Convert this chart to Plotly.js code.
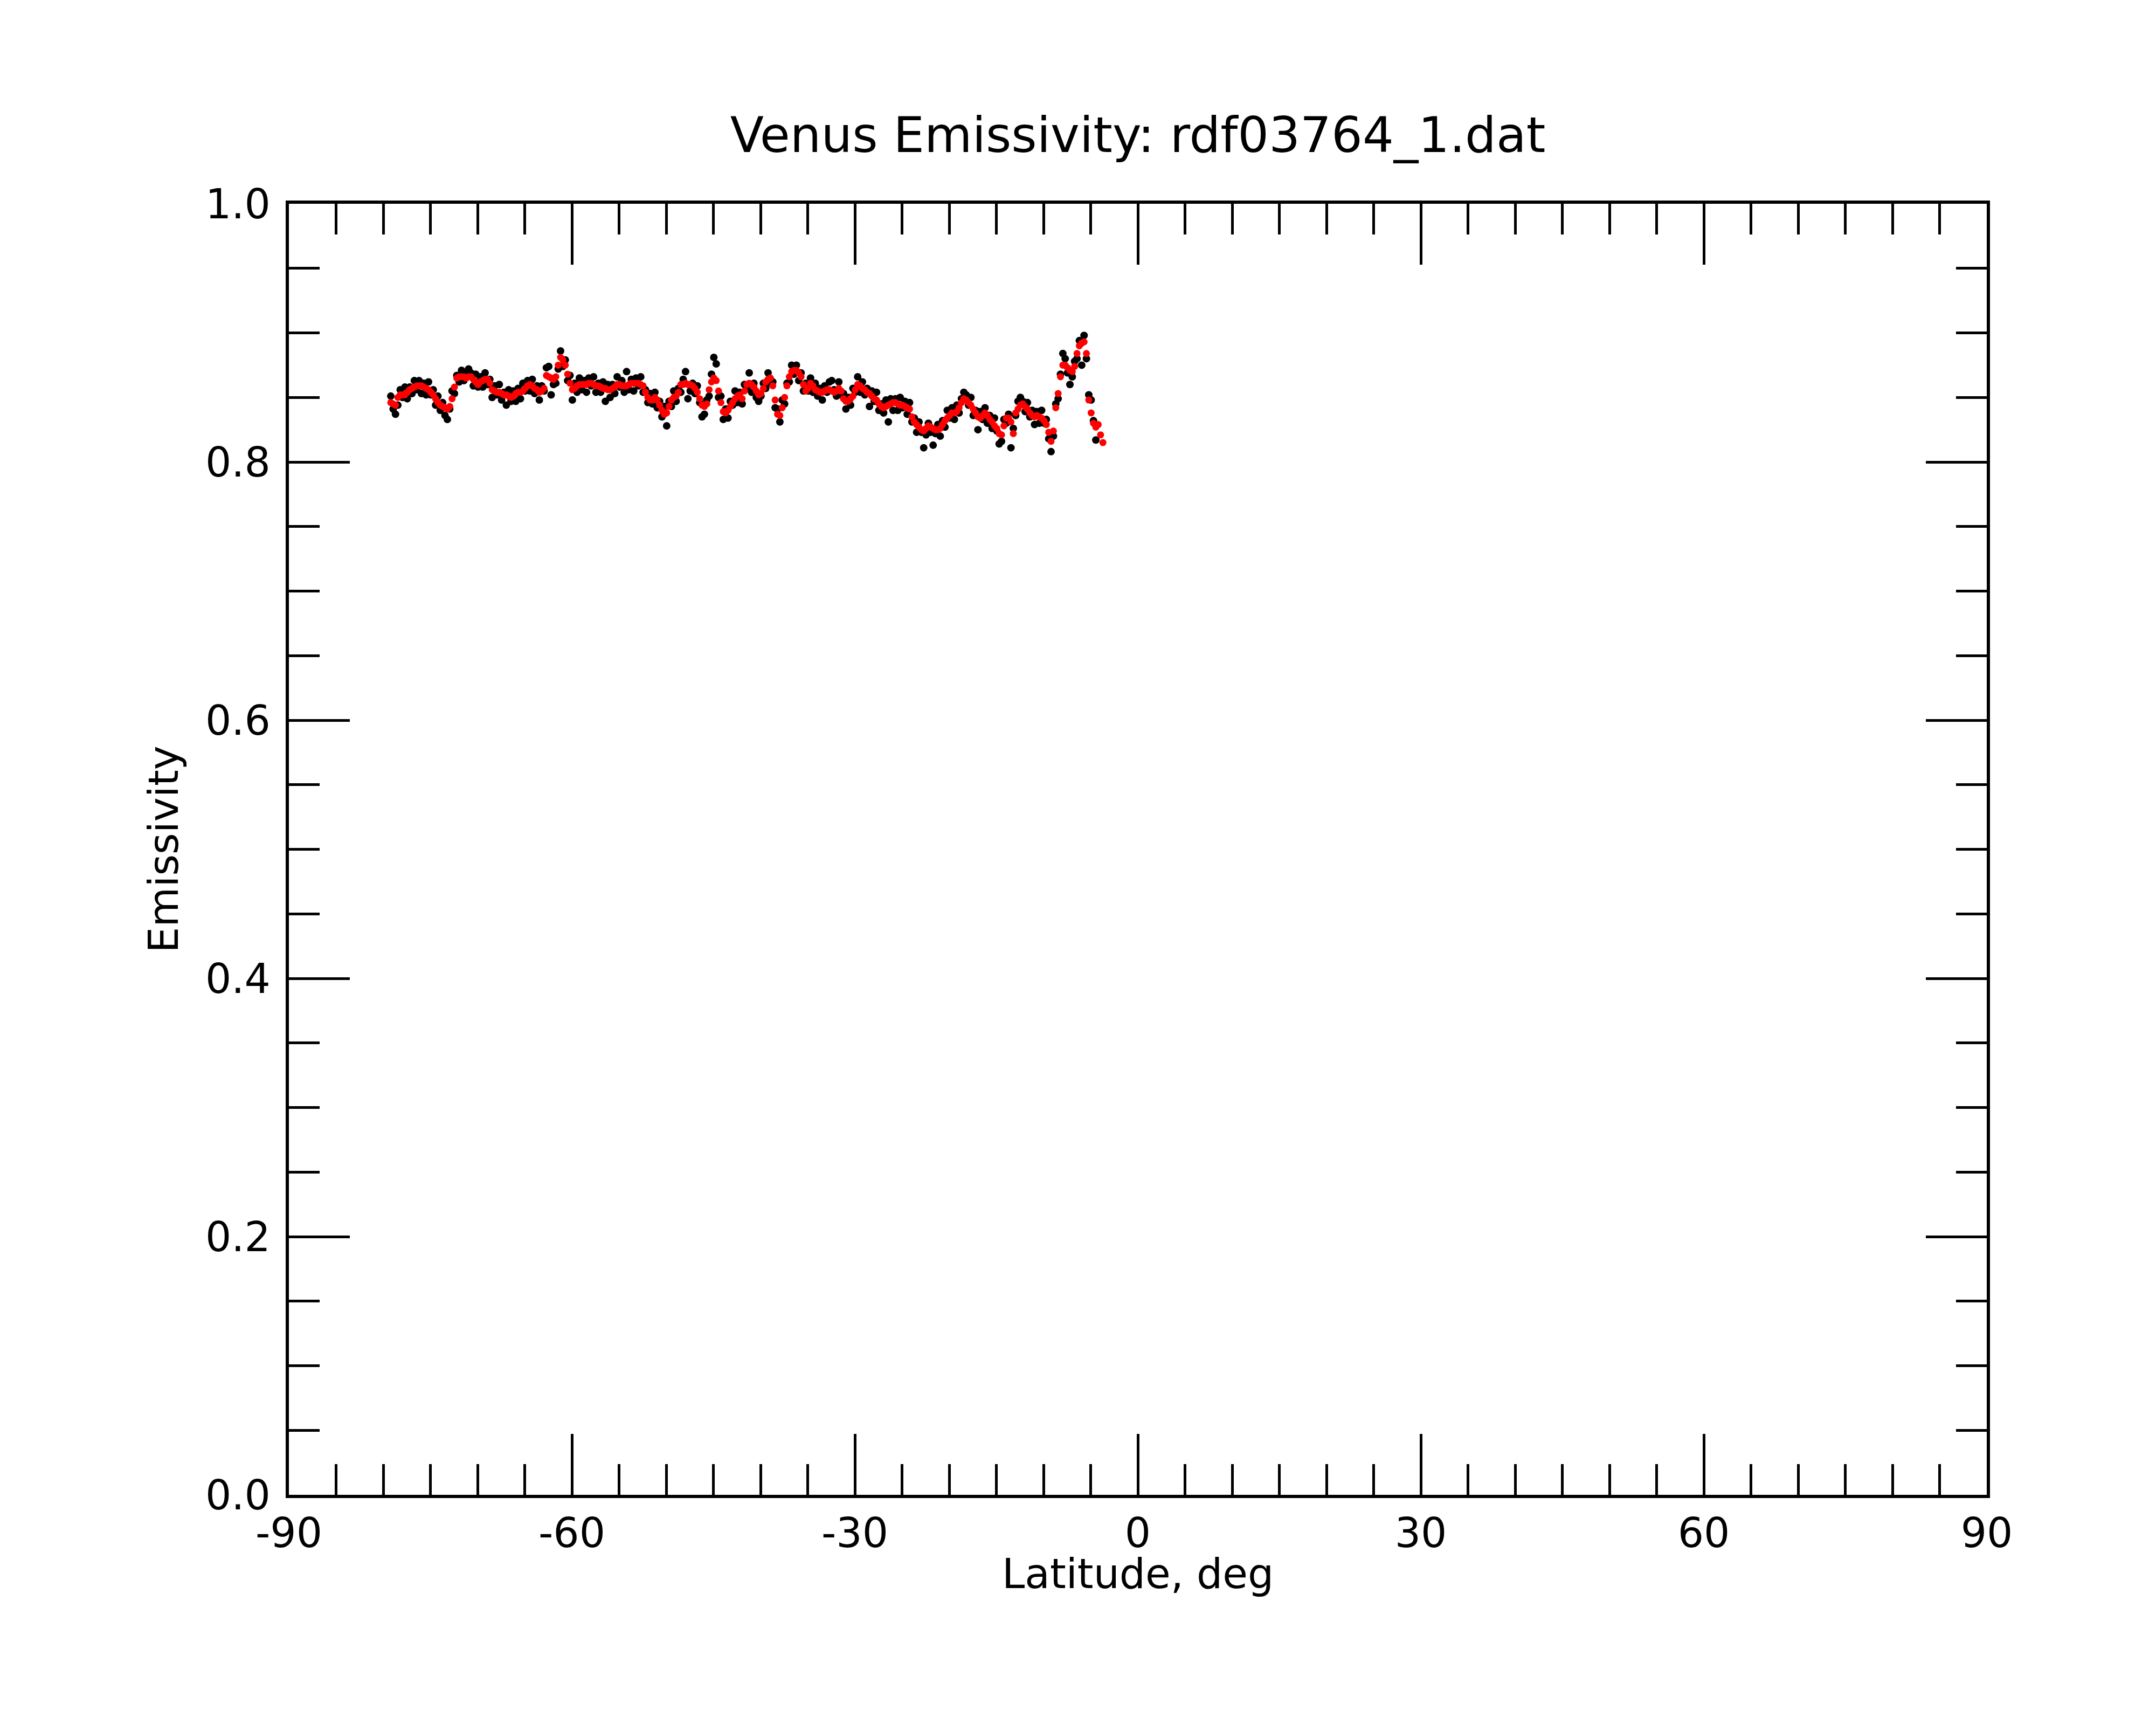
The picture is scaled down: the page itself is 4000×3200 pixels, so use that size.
<!DOCTYPE html>
<html lang="en">

<head>
    <meta charset="utf-8">
    <title>Venus Emissivity: rdf03764_1.dat</title>
    <script src="https://cdn.plot.ly/plotly-3.0.1.min.js"></script>
    <style>
        html,
        body {
            margin: 0;
            padding: 0;
            background: #fff;
        }

        #plot {
            width: 4000px;
            height: 3200px;
        }
    </style>
</head>

<body>
    <div id="plot"></div>

    <script>
        // Samples are evenly spaced in latitude, starting at latStart.
        const latStart = -79.2;
        const latStep = 0.25;

        // Raw emissivity samples (black dots).
        const rawEmissivity = [
            0.851, 0.841, 0.837, 0.844, 0.856, 0.850, 0.858, 0.849, 0.858, 0.853,
            0.863, 0.856, 0.863, 0.853, 0.861, 0.852, 0.862, 0.852, 0.856, 0.844,
            0.851, 0.840, 0.846, 0.836, 0.833, 0.841, 0.855, 0.853, 0.867, 0.862,
            0.871, 0.863, 0.869, 0.872, 0.869, 0.859, 0.868, 0.858, 0.866, 0.858,
            0.869, 0.860, 0.864, 0.850, 0.859, 0.852, 0.860, 0.848, 0.854, 0.844,
            0.856, 0.847, 0.855, 0.847, 0.857, 0.849, 0.861, 0.855, 0.863, 0.855,
            0.864, 0.853, 0.859, 0.848, 0.859, 0.855, 0.873, 0.874, 0.852, 0.860,
            0.861, 0.872, 0.886, 0.874, 0.879, 0.863, 0.867, 0.848, 0.861, 0.854,
            0.865, 0.856, 0.863, 0.854, 0.865, 0.859, 0.866, 0.854, 0.861, 0.854,
            0.862, 0.847, 0.860, 0.850, 0.860, 0.853, 0.866, 0.858, 0.863, 0.854,
            0.870, 0.856, 0.864, 0.855, 0.865, 0.859, 0.866, 0.854, 0.856, 0.846,
            0.853, 0.845, 0.854, 0.842, 0.847, 0.835, 0.843, 0.828, 0.847, 0.843,
            0.855, 0.847, 0.857, 0.854, 0.864, 0.870, 0.849, 0.855, 0.861, 0.853,
            0.859, 0.846, 0.835, 0.837, 0.848, 0.851, 0.868, 0.881, 0.876, 0.850,
            0.851, 0.833, 0.841, 0.834, 0.847, 0.844, 0.855, 0.846, 0.854, 0.845,
            0.860, 0.857, 0.869, 0.854, 0.861, 0.850, 0.847, 0.851, 0.861, 0.857,
            0.869, 0.861, 0.862, 0.842, 0.841, 0.831, 0.848, 0.845, 0.861, 0.862,
            0.875, 0.868, 0.875, 0.863, 0.869, 0.855, 0.861, 0.855, 0.865, 0.854,
            0.861, 0.851, 0.857, 0.848, 0.859, 0.854, 0.862, 0.863, 0.856, 0.851,
            0.862, 0.852, 0.853, 0.841, 0.850, 0.844, 0.857, 0.854, 0.866, 0.854,
            0.862, 0.852, 0.857, 0.843, 0.855, 0.847, 0.854, 0.840, 0.845, 0.838,
            0.848, 0.831, 0.849, 0.840, 0.849, 0.840, 0.850, 0.842, 0.847, 0.837,
            0.846, 0.831, 0.834, 0.823, 0.831, 0.823, 0.811, 0.821, 0.830, 0.823,
            0.813, 0.822, 0.829, 0.820, 0.832, 0.827, 0.840, 0.834, 0.842, 0.833,
            0.844, 0.838, 0.849, 0.854, 0.852, 0.844, 0.850, 0.836, 0.840, 0.825,
            0.839, 0.833, 0.842, 0.830, 0.836, 0.826, 0.834, 0.824, 0.814, 0.816,
            0.833, 0.830, 0.837, 0.811, 0.826, 0.836, 0.847, 0.850, 0.847, 0.839,
            0.846, 0.835, 0.840, 0.829, 0.839, 0.830, 0.840, 0.830, 0.833, 0.818,
            0.808, 0.820, 0.845, 0.849, 0.868, 0.884, 0.880, 0.869, 0.860, 0.866,
            0.878, 0.880, 0.894, 0.875, 0.898, 0.880, 0.852, 0.848, 0.832, 0.817
        ];

        // Smoothed emissivity (red dots).
        const smoothEmissivity = [
            0.846, 0.845, 0.844, 0.850, 0.852, 0.852, 0.852, 0.854, 0.856, 0.857,
            0.858, 0.859, 0.859, 0.859, 0.858, 0.857, 0.856, 0.854, 0.852, 0.849,
            0.846, 0.844, 0.843, 0.842, 0.841, 0.843, 0.849, 0.858, 0.865, 0.866,
            0.866, 0.866, 0.865, 0.866, 0.866, 0.864, 0.862, 0.860, 0.862, 0.863,
            0.864, 0.864, 0.861, 0.856, 0.855, 0.854, 0.854, 0.853, 0.852, 0.852,
            0.851, 0.850, 0.851, 0.853, 0.854, 0.854, 0.855, 0.857, 0.859, 0.860,
            0.859, 0.857, 0.856, 0.854, 0.855, 0.857, 0.867, 0.866, 0.865, 0.864,
            0.866, 0.875, 0.881, 0.879, 0.875, 0.868, 0.861, 0.856, 0.857, 0.859,
            0.860, 0.860, 0.860, 0.860, 0.861, 0.861, 0.860, 0.859, 0.859, 0.858,
            0.857, 0.857, 0.856, 0.856, 0.857, 0.858, 0.860, 0.860, 0.859, 0.859,
            0.859, 0.860, 0.861, 0.861, 0.861, 0.861, 0.860, 0.859, 0.854, 0.850,
            0.848, 0.848, 0.850, 0.848, 0.844, 0.840, 0.837, 0.838, 0.843, 0.848,
            0.850, 0.851, 0.854, 0.860, 0.860, 0.861, 0.860, 0.860, 0.859, 0.857,
            0.854, 0.849, 0.844, 0.843, 0.845, 0.856, 0.862, 0.865, 0.863, 0.855,
            0.846, 0.839, 0.838, 0.840, 0.843, 0.846, 0.849, 0.851, 0.852, 0.849,
            0.855, 0.860, 0.861, 0.860, 0.858, 0.855, 0.852, 0.853, 0.857, 0.862,
            0.864, 0.865, 0.859, 0.848, 0.837, 0.836, 0.842, 0.850, 0.859, 0.866,
            0.870, 0.871, 0.871, 0.869, 0.866, 0.860, 0.855, 0.857, 0.861, 0.859,
            0.856, 0.855, 0.854, 0.854, 0.855, 0.856, 0.856, 0.855, 0.854, 0.855,
            0.857, 0.855, 0.849, 0.847, 0.847, 0.849, 0.851, 0.856, 0.860, 0.859,
            0.857, 0.856, 0.854, 0.853, 0.851, 0.849, 0.848, 0.845, 0.843, 0.842,
            0.843, 0.844, 0.845, 0.846, 0.846, 0.845, 0.844, 0.844, 0.843, 0.842,
            0.841, 0.835, 0.831, 0.829, 0.827, 0.825, 0.824, 0.826, 0.828, 0.827,
            0.826, 0.825, 0.825, 0.826, 0.829, 0.832, 0.834, 0.836, 0.838, 0.838,
            0.839, 0.842, 0.846, 0.849, 0.848, 0.846, 0.844, 0.841, 0.838, 0.835,
            0.834, 0.836, 0.838, 0.836, 0.833, 0.831, 0.828, 0.826, 0.822, 0.821,
            0.828, 0.834, 0.834, 0.831, 0.822, 0.838, 0.841, 0.844, 0.845, 0.843,
            0.841, 0.838, 0.836, 0.835, 0.836, 0.835, 0.834, 0.832, 0.829, 0.823,
            0.816, 0.824, 0.842, 0.853, 0.866, 0.875, 0.875, 0.873, 0.871, 0.870,
            0.874, 0.884, 0.890, 0.892, 0.893, 0.884, 0.848, 0.838, 0.830, 0.827,
            0.829, 0.821, 0.815
        ];

        const xTickVals = [-90, -60, -30, 0, 30, 60, 90];
        const xTickText = ["-90", "-60", "-30", "0", "30", "60", "90"];
        const yTickVals = [0.0, 0.2, 0.4, 0.6, 0.8, 1.0];
        const yTickText = ["0.0", "0.2", "0.4", "0.6", "0.8", "1.0"];

        const fontFamily = "DejaVu Sans, sans-serif";
        const labelFont = { family: fontFamily, size: 76, color: "black" };

        function axisStyle(minorStep) {
            return {
                showgrid: false,
                zeroline: false,
                showline: true,
                linecolor: "black",
                linewidth: 6,
                mirror: "ticks",
                ticks: "inside",
                ticklen: 113,
                tickwidth: 5,
                tickcolor: "black",
                tickmode: "array",
                tickfont: labelFont,
                minor: {
                    tickmode: "linear",
                    tick0: 0,
                    dtick: minorStep,
                    ticks: "inside",
                    ticklen: 57,
                    tickwidth: 5,
                    tickcolor: "black",
                    showgrid: false
                }
            };
        }

        const raw = {
            type: "scatter",
            mode: "markers",
            x0: latStart,
            dx: latStep,
            y: rawEmissivity,
            marker: { color: "black", size: 14 },
            hoverinfo: "x+y"
        };

        const smooth = {
            type: "scatter",
            mode: "markers",
            x0: latStart,
            dx: latStep,
            y: smoothEmissivity,
            marker: { color: "red", size: 13 },
            hoverinfo: "x+y"
        };

        const xaxis = axisStyle(5);
        xaxis.range = [-90, 90];
        xaxis.tickvals = xTickVals;
        xaxis.ticktext = xTickText;

        const yaxis = axisStyle(0.05);
        yaxis.range = [0, 1];
        yaxis.tickvals = yTickVals;
        yaxis.ticktext = yTickText;
        yaxis.ticklabelstandoff = 13;
        yaxis.title = {
            text: "Emissivity",
            font: labelFont,
            standoff: 27
        };

        const layout = {
            width: 4000,
            height: 3200,
            margin: { l: 536, r: 314, t: 378, b: 427 },
            paper_bgcolor: "white",
            plot_bgcolor: "white",
            showlegend: false,
            title: {
                text: "Venus Emissivity: rdf03764_1.dat",
                font: { family: fontFamily, size: 91, color: "black" },
                x: 0.5,
                xref: "paper",
                y: 1 - 250 / 3200,
                yref: "container",
                yanchor: "middle"
            },
            // x-axis title placed as an annotation so it can sit close to the tick labels
            annotations: [{
                text: "Latitude, deg",
                font: labelFont,
                showarrow: false,
                xref: "paper",
                yref: "paper",
                x: 0.5,
                y: -0.061,
                xanchor: "center",
                yanchor: "middle",
                borderpad: 0
            }],
            xaxis: xaxis,
            yaxis: yaxis
        };

        Plotly.newPlot("plot", [raw, smooth], layout, { staticPlot: true });
    </script>

</body>

</html>
